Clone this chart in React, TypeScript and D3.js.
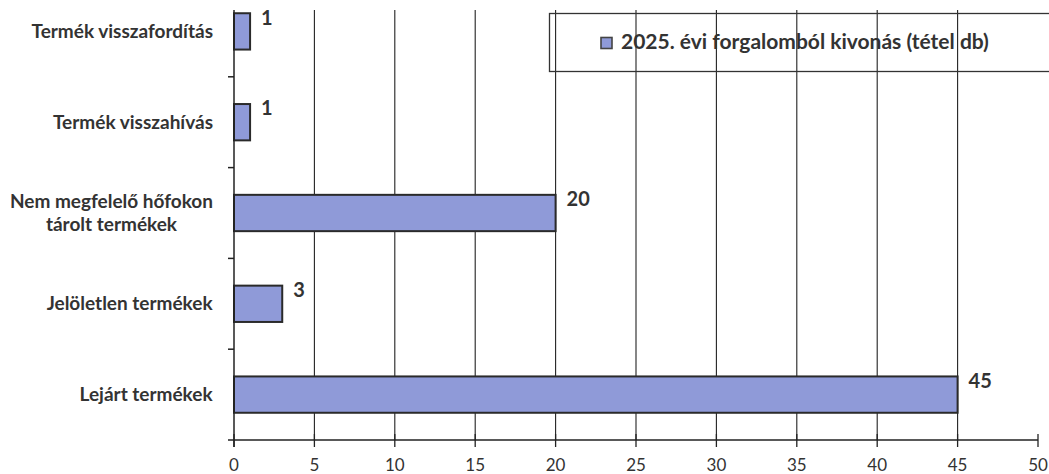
import { useEffect, useRef } from "react";
import * as d3 from "d3";

// categories listed bottom to top, as in the chart
const categories = [
  "Lejárt termékek",
  "Jelöletlen termékek",
  "Nem megfelelő hőfokon tárolt termékek",
  "Termék visszahívás",
  "Termék visszafordítás",
];
const values = [45, 3, 20, 1, 1];
const xTicks = [0, 5, 10, 15, 20, 25, 30, 35, 40, 45, 50];
const legendLabel = "2025. évi forgalomból kivonás (tétel db)";

// label lines for the long category
const labelLines: Record<string, string[]> = {
  "Nem megfelelő hőfokon tárolt termékek": ["Nem megfelelő hőfokon", "tárolt termékek"],
};

const W = 1049;
const H = 474;
const FONT = "Lato, 'Open Sans', sans-serif";

export default function App() {
  const ref = useRef<SVGSVGElement>(null);

  useEffect(() => {
    const svg = d3.select(ref.current);
    svg.selectAll("*").remove();

    const MARGIN = { left: 234, right: 11, top: -14, bottom: 34 };
    const plotTop = 10; // visible top of axis/grid
    const x = d3.scaleLinear().domain([0, 50]).range([MARGIN.left, W - MARGIN.right]);
    const y = d3
      .scaleBand()
      .domain(categories)
      .range([H - MARGIN.bottom, MARGIN.top])
      .padding(0);
    const barH = y.bandwidth() * 0.4;
    const axisY = H - MARGIN.bottom;

    svg.append("rect").attr("width", W).attr("height", H).attr("fill", "#fff");

    // vertical gridlines
    svg
      .append("g")
      .selectAll("line")
      .data(xTicks.filter((t) => t > 0 && t < 50))
      .join("line")
      .attr("x1", (d) => x(d))
      .attr("x2", (d) => x(d))
      .attr("y1", plotTop)
      .attr("y2", axisY)
      .attr("stroke", "#222")
      .attr("stroke-width", 1.1);

    // legend box (transparent, grid shows through)
    const lg = svg.append("g");
    lg.append("rect")
      .attr("x", 549.5)
      .attr("y", 13.5)
      .attr("width", 520)
      .attr("height", 58)
      .attr("fill", "none")
      .attr("stroke", "#333")
      .attr("stroke-width", 1.3);
    lg.append("rect")
      .attr("x", 601)
      .attr("y", 37.5)
      .attr("width", 11)
      .attr("height", 11)
      .attr("fill", "#8f9ad8")
      .attr("stroke", "#444")
      .attr("stroke-width", 1.6);
    lg.append("text")
      .attr("x", 621)
      .attr("y", 49)
      .attr("font-family", FONT)
      .attr("font-size", 21)
      .attr("font-weight", 700)
      .attr("fill", "#333")
      .text(legendLabel);

    // bars
    svg
      .append("g")
      .selectAll("rect")
      .data(categories)
      .join("rect")
      .attr("x", x(0))
      .attr("y", (d) => (y(d) as number) + y.bandwidth() / 2 - barH / 2)
      .attr("width", (d, i) => x(values[i]) - x(0))
      .attr("height", barH)
      .attr("fill", "#8f9ad8")
      .attr("stroke", "#2a2a2a")
      .attr("stroke-width", 2);

    // value labels
    svg
      .append("g")
      .selectAll("text")
      .data(categories)
      .join("text")
      .attr("x", (d, i) => x(values[i]) + 11)
      .attr("y", (d) => (y(d) as number) + y.bandwidth() / 2 - 12)
      .attr("dominant-baseline", "middle")
      .attr("font-family", FONT)
      .attr("font-size", 20)
      .attr("font-weight", 700)
      .attr("fill", "#333")
      .text((d, i) => values[i]);

    // y axis line + ticks at band boundaries
    svg
      .append("line")
      .attr("x1", x(0))
      .attr("x2", x(0))
      .attr("y1", plotTop)
      .attr("y2", axisY + 7)
      .attr("stroke", "#222")
      .attr("stroke-width", 1.5);
    svg
      .append("g")
      .selectAll("line")
      .data(categories.slice(0, -1))
      .join("line")
      .attr("x1", x(0) - 6)
      .attr("x2", x(0))
      .attr("y1", (d) => y(d) as number)
      .attr("y2", (d) => y(d) as number)
      .attr("stroke", "#222")
      .attr("stroke-width", 1.5);

    // category labels
    const cl = svg
      .append("g")
      .selectAll("text")
      .data(categories)
      .join("text")
      .attr("font-family", FONT)
      .attr("font-size", 19)
      .attr("font-weight", 700)
      .attr("fill", "#333")
      .attr("text-anchor", "middle")
      .attr("x", 0)
      .attr("y", (d) => (y(d) as number) + y.bandwidth() / 2);
    cl.each(function (d) {
      const lines = labelLines[d] || [d];
      const t = d3.select(this);
      lines.forEach((ln, k) => {
        t.append("tspan")
          .attr("x", 0)
          .attr("dy", k === 0 ? `${0.35 - (lines.length - 1) * 0.6}em` : "1.2em")
          .text(ln);
      });
    });
    // right-align block while centering multi-line text
    cl.each(function () {
      const t = d3.select(this);
      const bb = (this as SVGTextElement).getBBox();
      const right = x(0) - 21;
      t.selectAll("tspan").attr("x", right - bb.width / 2);
    });

    // x axis
    svg
      .append("line")
      .attr("x1", x(0) - 6)
      .attr("x2", x(50))
      .attr("y1", axisY)
      .attr("y2", axisY)
      .attr("stroke", "#222")
      .attr("stroke-width", 1.5);
    svg
      .append("g")
      .selectAll("line")
      .data(xTicks)
      .join("line")
      .attr("x1", (d) => x(d))
      .attr("x2", (d) => x(d))
      .attr("y1", axisY - 6)
      .attr("y2", axisY + 7)
      .attr("stroke", "#222")
      .attr("stroke-width", 1.3);
    svg
      .append("g")
      .selectAll("text")
      .data(xTicks)
      .join("text")
      .attr("x", (d) => x(d))
      .attr("y", axisY + 27)
      .attr("text-anchor", "middle")
      .attr("dominant-baseline", "middle")
      .attr("font-family", FONT)
      .attr("font-size", 17)
      .attr("fill", "#333")
      .text((d) => d);
  }, []);

  return (
    <svg
      ref={ref}
      width={W}
      height={H}
      style={{ position: "absolute", left: 0, top: 0, display: "block" }}
    />
  );
}
